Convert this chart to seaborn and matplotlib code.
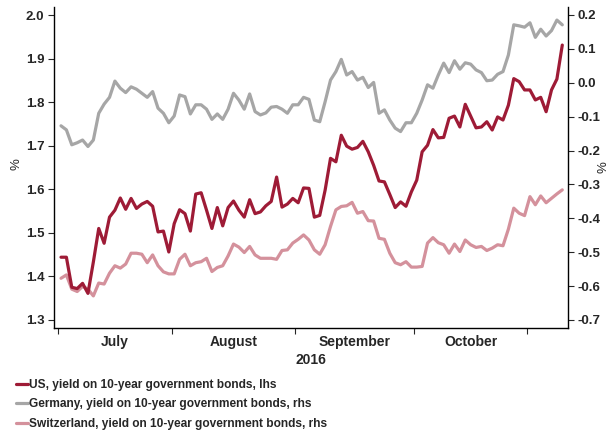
import numpy as np
import pandas as pd
import matplotlib
matplotlib.use("Agg")
import matplotlib.pyplot as plt
import seaborn as sns

# ---------------- data ----------------
dates = pd.bdate_range("2016-07-01", "2016-11-09")

us = [1.444, 1.444, 1.375, 1.372, 1.384, 1.361, 1.433, 1.510, 1.476, 1.536,
      1.552, 1.580, 1.554, 1.579, 1.556, 1.566, 1.572, 1.561, 1.502, 1.504,
      1.456, 1.521, 1.553, 1.544, 1.504, 1.589, 1.592, 1.552, 1.510, 1.558,
      1.516, 1.558, 1.573, 1.552, 1.536, 1.576, 1.544, 1.548, 1.562, 1.572,
      1.628, 1.559, 1.566, 1.579, 1.569, 1.603, 1.602, 1.536, 1.540, 1.598,
      1.671, 1.663, 1.724, 1.699, 1.692, 1.696, 1.710, 1.686, 1.655, 1.619,
      1.617, 1.588, 1.558, 1.571, 1.561, 1.594, 1.621, 1.686, 1.701, 1.737,
      1.718, 1.719, 1.763, 1.768, 1.743, 1.795, 1.768, 1.741, 1.743, 1.755,
      1.736, 1.766, 1.759, 1.793, 1.854, 1.847, 1.828, 1.828, 1.805, 1.811,
      1.778, 1.828, 1.853, 1.931]

germany = [-0.127, -0.139, -0.183, -0.177, -0.169, -0.188, -0.169, -0.090, -0.063, -0.043,
           0.005, -0.016, -0.029, -0.012, -0.019, -0.031, -0.043, -0.026, -0.075, -0.090,
           -0.118, -0.098, -0.036, -0.041, -0.092, -0.065, -0.065, -0.078, -0.108, -0.092,
           -0.108, -0.078, -0.031, -0.051, -0.078, -0.033, -0.085, -0.095, -0.089, -0.072,
           -0.070, -0.078, -0.090, -0.065, -0.065, -0.043, -0.049, -0.110, -0.115, -0.056,
           0.008, 0.033, 0.069, 0.023, 0.033, 0.008, 0.016, -0.014, 0.001, -0.090,
           -0.080, -0.110, -0.134, -0.144, -0.118, -0.118, -0.090, -0.051, -0.006, -0.016,
           0.023, 0.058, 0.030, 0.065, 0.040, 0.059, 0.055, 0.038, 0.030, 0.006,
           0.008, 0.025, 0.033, 0.082, 0.171, 0.168, 0.164, 0.177, 0.134, 0.158,
           0.138, 0.154, 0.185, 0.171]

switzerland = [-0.577, -0.567, -0.609, -0.616, -0.601, -0.609, -0.629, -0.591, -0.594, -0.562,
               -0.540, -0.547, -0.535, -0.503, -0.503, -0.506, -0.531, -0.508, -0.540, -0.558,
               -0.564, -0.564, -0.521, -0.506, -0.540, -0.531, -0.528, -0.518, -0.557, -0.545,
               -0.540, -0.511, -0.476, -0.485, -0.501, -0.483, -0.508, -0.518, -0.518, -0.518,
               -0.521, -0.495, -0.493, -0.473, -0.462, -0.449, -0.464, -0.493, -0.506, -0.478,
               -0.424, -0.375, -0.365, -0.363, -0.353, -0.385, -0.380, -0.407, -0.408, -0.459,
               -0.462, -0.503, -0.531, -0.537, -0.528, -0.544, -0.544, -0.542, -0.473, -0.457,
               -0.472, -0.478, -0.503, -0.476, -0.498, -0.464, -0.478, -0.486, -0.483, -0.495,
               -0.488, -0.478, -0.481, -0.432, -0.370, -0.385, -0.392, -0.336, -0.360, -0.334,
               -0.354, -0.341, -0.328, -0.316]

labels = ["US, yield on 10-year government bonds, lhs",
          "Germany, yield on 10-year government bonds, rhs",
          "Switzerland, yield on 10-year government bonds, rhs"]
colors = ["#9E1B36", "#A6A6A6", "#D4919C"]
month_names = ["July", "August", "September", "October"]
year_label = "2016"
left_ticks = [1.3, 1.4, 1.5, 1.6, 1.7, 1.8, 1.9, 2.0]
right_ticks = [-0.7, -0.6, -0.5, -0.4, -0.3, -0.2, -0.1, 0.0, 0.1, 0.2]

# ---------------- plot ----------------
sns.set_style("white")
plt.rcParams["font.family"] = ["Liberation Sans", "DejaVu Sans"]

pos = np.arange(len(dates))
df = pd.DataFrame({"pos": pos, "us": us, "de": germany, "ch": switzerland})

fig = plt.figure(figsize=(6.14, 4.36), dpi=100)
ax = fig.add_axes([54 / 614, 1 - 328 / 436, (568 - 54) / 614, 321 / 436])
ax2 = ax.twinx()

lw = 2.3
sns.lineplot(data=df, x="pos", y="us", ax=ax, color=colors[0], lw=lw, label=labels[0], legend=False)
sns.lineplot(data=df, x="pos", y="de", ax=ax2, color=colors[1], lw=lw, label=labels[1], legend=False)
sns.lineplot(data=df, x="pos", y="ch", ax=ax2, color=colors[2], lw=lw, label=labels[2], legend=False)
ax.set_zorder(ax2.get_zorder() + 1)
ax.patch.set_visible(False)

ax.set_xlim(-1.3, 94.06)
ax.set_ylim(1.2815, 2.0184)
ax2.set_ylim(-0.7237, 0.2236)
ax.set_yticks(left_ticks)
ax.set_yticklabels([f"{v:.1f}" for v in left_ticks])
ax2.set_yticks(right_ticks)
ax2.set_yticklabels([f"{v:.1f}" for v in right_ticks])

# month boundaries
months = dates.month
bounds = [-0.5] + [i - 0.5 for i in range(1, len(dates)) if months[i] != months[i - 1]]
ax.set_xticks(bounds)
ax.set_xticklabels([])
mids = [(bounds[k] + bounds[k + 1]) / 2 for k in range(len(month_names))]
ax.set_xticks(mids, minor=True)
ax.set_xticklabels(month_names, minor=True)
ax.tick_params(axis="x", which="major", length=4, width=0.8, direction="out", bottom=True)
ax.tick_params(axis="x", which="minor", length=0, pad=5, labelsize=10)
for t in ax.get_xticklabels(minor=True):
    t.set_fontweight("bold")
ax.set_xlabel(year_label, fontsize=10, fontweight="bold", labelpad=3)

ax.tick_params(axis="y", length=4, width=0.8, direction="out", left=True, labelsize=9.5, pad=3)
ax2.tick_params(axis="y", length=4, width=0.8, direction="out", right=True, labelsize=9.5, pad=3)
for t in ax.get_yticklabels() + ax2.get_yticklabels():
    t.set_fontweight("bold")
ax.set_ylabel("%", fontsize=9.5)
ax2.set_ylabel("%", fontsize=9.5, rotation=90)
ax.yaxis.set_label_coords(-0.062, 0.51)
ax2.yaxis.set_label_coords(1.058, 0.50)

for a in (ax, ax2):
    a.spines["top"].set_visible(False)
    for s in ("left", "right", "bottom"):
        a.spines[s].set_color("black")
        a.spines[s].set_linewidth(1.0)
ax.spines["right"].set_visible(False)
ax2.spines["left"].set_visible(False)
ax2.spines["bottom"].set_visible(False)
ax.grid(False)
ax2.grid(False)

handles = ax.get_lines()[:1] + ax2.get_lines()[:2]
leg = fig.legend(handles, labels, loc="upper left", bbox_to_anchor=(0.026, 0.131),
                 frameon=False, handlelength=1.0, handletextpad=0.12, labelspacing=0.62,
                 borderaxespad=0, borderpad=0, prop=dict(weight="bold", size=8.6))
for l in leg.get_lines():
    l.set_linewidth(2.3)

fig.savefig("out.png", dpi=100)
